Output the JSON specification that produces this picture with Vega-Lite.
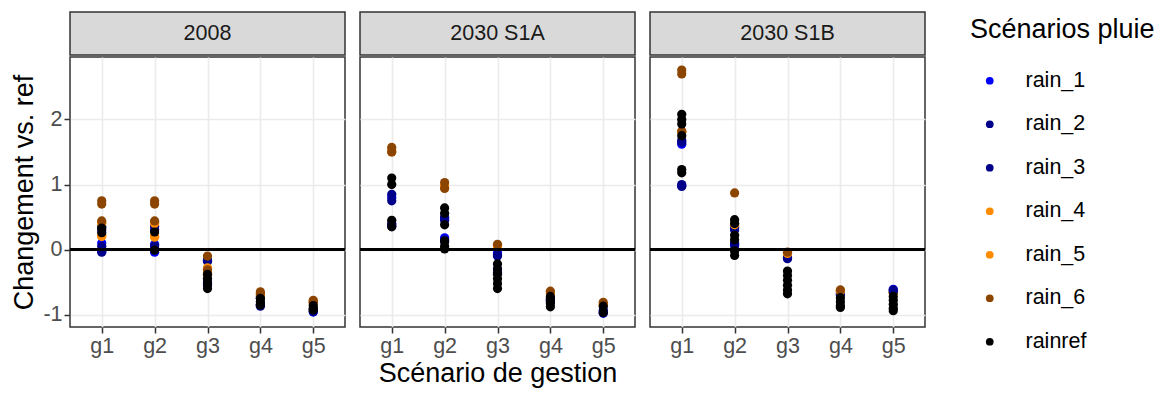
{
  "$schema": "https://vega.github.io/schema/vega-lite/v6.json",
  "padding": {"left": 10, "top": 11, "right": 5, "bottom": 5},
  "config": {
    "font": "Liberation Sans",
    "view": {"stroke": "#333333", "strokeWidth": 1.5},
    "axis": {"labelFontSize": 21.5, "labelColor": "#4D4D4D", "tickColor": "#333333", "tickWidth": 1.5, "tickSize": 6, "domain": false, "gridColor": "#EBEBEB", "titleFontSize": 27, "titleFontWeight": "normal", "titleColor": "#000000", "labelPadding": 2},
    "legend": {"titleFontSize": 27, "titleFontWeight": "normal", "titleColor": "#000000", "titleLimit": 400, "labelFontSize": 21.5, "labelColor": "#000000", "symbolSize": 60, "symbolType": "circle", "rowPadding": 20.5, "labelOffset": 25, "symbolOffset": 9, "offset": 38, "titlePadding": 26, "padding": 5}
  },
  "data": {"values": [
    {"p":"2008","g":"g1","s":"rain_1","v":0.10},{"p":"2008","g":"g1","s":"rain_1","v":-0.03},
    {"p":"2008","g":"g1","s":"rain_2","v":0.35},{"p":"2008","g":"g1","s":"rain_2","v":0.05},
    {"p":"2008","g":"g1","s":"rain_3","v":0.30},{"p":"2008","g":"g1","s":"rain_3","v":-0.04},
    {"p":"2008","g":"g1","s":"rain_4","v":0.42},{"p":"2008","g":"g1","s":"rain_4","v":0.22},
    {"p":"2008","g":"g1","s":"rain_5","v":0.40},{"p":"2008","g":"g1","s":"rain_5","v":0.20},
    {"p":"2008","g":"g1","s":"rain_6","v":0.75},{"p":"2008","g":"g1","s":"rain_6","v":0.70},{"p":"2008","g":"g1","s":"rain_6","v":0.44},
    {"p":"2008","g":"g1","s":"rainref","v":0.33},{"p":"2008","g":"g1","s":"rainref","v":0.26},
    {"p":"2008","g":"g2","s":"rain_1","v":0.08},{"p":"2008","g":"g2","s":"rain_1","v":-0.04},
    {"p":"2008","g":"g2","s":"rain_2","v":0.36},{"p":"2008","g":"g2","s":"rain_2","v":0.06},
    {"p":"2008","g":"g2","s":"rain_3","v":0.31},{"p":"2008","g":"g2","s":"rain_3","v":0.02},
    {"p":"2008","g":"g2","s":"rain_4","v":0.42},{"p":"2008","g":"g2","s":"rain_4","v":0.21},
    {"p":"2008","g":"g2","s":"rain_5","v":0.40},{"p":"2008","g":"g2","s":"rain_5","v":0.19},
    {"p":"2008","g":"g2","s":"rain_6","v":0.75},{"p":"2008","g":"g2","s":"rain_6","v":0.70},{"p":"2008","g":"g2","s":"rain_6","v":0.44},
    {"p":"2008","g":"g2","s":"rainref","v":0.27},{"p":"2008","g":"g2","s":"rainref","v":-0.01},
    {"p":"2008","g":"g3","s":"rain_1","v":-0.17},{"p":"2008","g":"g3","s":"rain_1","v":-0.45},
    {"p":"2008","g":"g3","s":"rain_2","v":-0.18},{"p":"2008","g":"g3","s":"rain_2","v":-0.50},
    {"p":"2008","g":"g3","s":"rain_3","v":-0.16},{"p":"2008","g":"g3","s":"rain_3","v":-0.55},
    {"p":"2008","g":"g3","s":"rain_4","v":-0.30},{"p":"2008","g":"g3","s":"rain_4","v":-0.35},
    {"p":"2008","g":"g3","s":"rain_5","v":-0.28},{"p":"2008","g":"g3","s":"rain_5","v":-0.40},
    {"p":"2008","g":"g3","s":"rain_6","v":-0.10},{"p":"2008","g":"g3","s":"rain_6","v":-0.31},
    {"p":"2008","g":"g3","s":"rainref","v":-0.38},{"p":"2008","g":"g3","s":"rainref","v":-0.45},{"p":"2008","g":"g3","s":"rainref","v":-0.52},{"p":"2008","g":"g3","s":"rainref","v":-0.60},
    {"p":"2008","g":"g4","s":"rain_1","v":-0.85},
    {"p":"2008","g":"g4","s":"rain_2","v":-0.75},{"p":"2008","g":"g4","s":"rain_2","v":-0.87},
    {"p":"2008","g":"g4","s":"rain_3","v":-0.72},{"p":"2008","g":"g4","s":"rain_3","v":-0.84},
    {"p":"2008","g":"g4","s":"rain_4","v":-0.68},
    {"p":"2008","g":"g4","s":"rain_5","v":-0.70},
    {"p":"2008","g":"g4","s":"rain_6","v":-0.65},{"p":"2008","g":"g4","s":"rain_6","v":-0.68},
    {"p":"2008","g":"g4","s":"rainref","v":-0.75},{"p":"2008","g":"g4","s":"rainref","v":-0.80},{"p":"2008","g":"g4","s":"rainref","v":-0.85},
    {"p":"2008","g":"g5","s":"rain_1","v":-0.96},
    {"p":"2008","g":"g5","s":"rain_2","v":-0.92},
    {"p":"2008","g":"g5","s":"rain_3","v":-0.95},
    {"p":"2008","g":"g5","s":"rain_4","v":-0.80},
    {"p":"2008","g":"g5","s":"rain_5","v":-0.82},
    {"p":"2008","g":"g5","s":"rain_6","v":-0.78},{"p":"2008","g":"g5","s":"rain_6","v":-0.81},
    {"p":"2008","g":"g5","s":"rainref","v":-0.86},{"p":"2008","g":"g5","s":"rainref","v":-0.90},{"p":"2008","g":"g5","s":"rainref","v":-0.93},

    {"p":"2030 S1A","g":"g1","s":"rain_1","v":0.80},{"p":"2030 S1A","g":"g1","s":"rain_1","v":0.36},
    {"p":"2030 S1A","g":"g1","s":"rain_2","v":0.85},{"p":"2030 S1A","g":"g1","s":"rain_2","v":0.40},
    {"p":"2030 S1A","g":"g1","s":"rain_3","v":0.75},{"p":"2030 S1A","g":"g1","s":"rain_3","v":0.38},
    {"p":"2030 S1A","g":"g1","s":"rain_4","v":1.50},
    {"p":"2030 S1A","g":"g1","s":"rain_5","v":1.52},
    {"p":"2030 S1A","g":"g1","s":"rain_6","v":1.57},{"p":"2030 S1A","g":"g1","s":"rain_6","v":1.50},
    {"p":"2030 S1A","g":"g1","s":"rainref","v":1.10},{"p":"2030 S1A","g":"g1","s":"rainref","v":1.00},{"p":"2030 S1A","g":"g1","s":"rainref","v":0.45},{"p":"2030 S1A","g":"g1","s":"rainref","v":0.35},
    {"p":"2030 S1A","g":"g2","s":"rain_1","v":0.48},{"p":"2030 S1A","g":"g2","s":"rain_1","v":0.18},
    {"p":"2030 S1A","g":"g2","s":"rain_2","v":0.50},{"p":"2030 S1A","g":"g2","s":"rain_2","v":0.15},
    {"p":"2030 S1A","g":"g2","s":"rain_3","v":0.45},{"p":"2030 S1A","g":"g2","s":"rain_3","v":0.12},
    {"p":"2030 S1A","g":"g2","s":"rain_4","v":0.95},
    {"p":"2030 S1A","g":"g2","s":"rain_5","v":0.98},
    {"p":"2030 S1A","g":"g2","s":"rain_6","v":1.03},{"p":"2030 S1A","g":"g2","s":"rain_6","v":0.94},
    {"p":"2030 S1A","g":"g2","s":"rainref","v":0.64},{"p":"2030 S1A","g":"g2","s":"rainref","v":0.56},{"p":"2030 S1A","g":"g2","s":"rainref","v":0.38},{"p":"2030 S1A","g":"g2","s":"rainref","v":0.13},{"p":"2030 S1A","g":"g2","s":"rainref","v":0.05},{"p":"2030 S1A","g":"g2","s":"rainref","v":0.01},
    {"p":"2030 S1A","g":"g3","s":"rain_1","v":-0.05},{"p":"2030 S1A","g":"g3","s":"rain_1","v":-0.30},
    {"p":"2030 S1A","g":"g3","s":"rain_2","v":-0.08},{"p":"2030 S1A","g":"g3","s":"rain_2","v":-0.35},
    {"p":"2030 S1A","g":"g3","s":"rain_3","v":-0.10},
    {"p":"2030 S1A","g":"g3","s":"rain_4","v":0.05},
    {"p":"2030 S1A","g":"g3","s":"rain_5","v":0.06},
    {"p":"2030 S1A","g":"g3","s":"rain_6","v":0.08},
    {"p":"2030 S1A","g":"g3","s":"rainref","v":-0.22},{"p":"2030 S1A","g":"g3","s":"rainref","v":-0.30},{"p":"2030 S1A","g":"g3","s":"rainref","v":-0.38},{"p":"2030 S1A","g":"g3","s":"rainref","v":-0.45},{"p":"2030 S1A","g":"g3","s":"rainref","v":-0.52},{"p":"2030 S1A","g":"g3","s":"rainref","v":-0.60},
    {"p":"2030 S1A","g":"g4","s":"rain_1","v":-0.78},
    {"p":"2030 S1A","g":"g4","s":"rain_2","v":-0.75},
    {"p":"2030 S1A","g":"g4","s":"rain_3","v":-0.80},
    {"p":"2030 S1A","g":"g4","s":"rain_4","v":-0.66},
    {"p":"2030 S1A","g":"g4","s":"rain_5","v":-0.68},
    {"p":"2030 S1A","g":"g4","s":"rain_6","v":-0.64},
    {"p":"2030 S1A","g":"g4","s":"rainref","v":-0.72},{"p":"2030 S1A","g":"g4","s":"rainref","v":-0.77},{"p":"2030 S1A","g":"g4","s":"rainref","v":-0.83},{"p":"2030 S1A","g":"g4","s":"rainref","v":-0.88},
    {"p":"2030 S1A","g":"g5","s":"rain_1","v":-0.98},
    {"p":"2030 S1A","g":"g5","s":"rain_2","v":-0.93},
    {"p":"2030 S1A","g":"g5","s":"rain_3","v":-0.95},
    {"p":"2030 S1A","g":"g5","s":"rain_4","v":-0.84},
    {"p":"2030 S1A","g":"g5","s":"rain_5","v":-0.85},
    {"p":"2030 S1A","g":"g5","s":"rain_6","v":-0.81},
    {"p":"2030 S1A","g":"g5","s":"rainref","v":-0.87},{"p":"2030 S1A","g":"g5","s":"rainref","v":-0.97},

    {"p":"2030 S1B","g":"g1","s":"rain_1","v":1.62},{"p":"2030 S1B","g":"g1","s":"rain_1","v":0.98},
    {"p":"2030 S1B","g":"g1","s":"rain_2","v":1.68},{"p":"2030 S1B","g":"g1","s":"rain_2","v":1.00},
    {"p":"2030 S1B","g":"g1","s":"rain_3","v":1.65},{"p":"2030 S1B","g":"g1","s":"rain_3","v":0.97},
    {"p":"2030 S1B","g":"g1","s":"rain_4","v":1.80},
    {"p":"2030 S1B","g":"g1","s":"rain_5","v":1.82},
    {"p":"2030 S1B","g":"g1","s":"rain_6","v":2.76},{"p":"2030 S1B","g":"g1","s":"rain_6","v":2.70},{"p":"2030 S1B","g":"g1","s":"rain_6","v":1.82},
    {"p":"2030 S1B","g":"g1","s":"rainref","v":2.08},{"p":"2030 S1B","g":"g1","s":"rainref","v":2.00},{"p":"2030 S1B","g":"g1","s":"rainref","v":1.93},{"p":"2030 S1B","g":"g1","s":"rainref","v":1.75},{"p":"2030 S1B","g":"g1","s":"rainref","v":1.23},{"p":"2030 S1B","g":"g1","s":"rainref","v":1.18},
    {"p":"2030 S1B","g":"g2","s":"rain_1","v":0.33},{"p":"2030 S1B","g":"g2","s":"rain_1","v":0.08},
    {"p":"2030 S1B","g":"g2","s":"rain_2","v":0.35},{"p":"2030 S1B","g":"g2","s":"rain_2","v":0.10},
    {"p":"2030 S1B","g":"g2","s":"rain_3","v":0.30},{"p":"2030 S1B","g":"g2","s":"rain_3","v":0.06},
    {"p":"2030 S1B","g":"g2","s":"rain_4","v":0.40},
    {"p":"2030 S1B","g":"g2","s":"rain_5","v":0.38},
    {"p":"2030 S1B","g":"g2","s":"rain_6","v":0.87},
    {"p":"2030 S1B","g":"g2","s":"rainref","v":0.46},{"p":"2030 S1B","g":"g2","s":"rainref","v":0.40},{"p":"2030 S1B","g":"g2","s":"rainref","v":0.22},{"p":"2030 S1B","g":"g2","s":"rainref","v":0.15},{"p":"2030 S1B","g":"g2","s":"rainref","v":-0.02},{"p":"2030 S1B","g":"g2","s":"rainref","v":-0.09},
    {"p":"2030 S1B","g":"g3","s":"rain_1","v":-0.13},
    {"p":"2030 S1B","g":"g3","s":"rain_2","v":-0.12},
    {"p":"2030 S1B","g":"g3","s":"rain_3","v":-0.14},
    {"p":"2030 S1B","g":"g3","s":"rain_4","v":-0.05},
    {"p":"2030 S1B","g":"g3","s":"rain_5","v":-0.06},
    {"p":"2030 S1B","g":"g3","s":"rain_6","v":-0.04},
    {"p":"2030 S1B","g":"g3","s":"rainref","v":-0.33},{"p":"2030 S1B","g":"g3","s":"rainref","v":-0.40},{"p":"2030 S1B","g":"g3","s":"rainref","v":-0.47},{"p":"2030 S1B","g":"g3","s":"rainref","v":-0.55},{"p":"2030 S1B","g":"g3","s":"rainref","v":-0.62},{"p":"2030 S1B","g":"g3","s":"rainref","v":-0.68},
    {"p":"2030 S1B","g":"g4","s":"rain_1","v":-0.66},
    {"p":"2030 S1B","g":"g4","s":"rain_2","v":-0.68},
    {"p":"2030 S1B","g":"g4","s":"rain_3","v":-0.70},
    {"p":"2030 S1B","g":"g4","s":"rain_4","v":-0.63},
    {"p":"2030 S1B","g":"g4","s":"rain_5","v":-0.64},
    {"p":"2030 S1B","g":"g4","s":"rain_6","v":-0.62},
    {"p":"2030 S1B","g":"g4","s":"rainref","v":-0.74},{"p":"2030 S1B","g":"g4","s":"rainref","v":-0.80},{"p":"2030 S1B","g":"g4","s":"rainref","v":-0.86},{"p":"2030 S1B","g":"g4","s":"rainref","v":-0.89},
    {"p":"2030 S1B","g":"g5","s":"rain_4","v":-0.66},
    {"p":"2030 S1B","g":"g5","s":"rain_5","v":-0.67},
    {"p":"2030 S1B","g":"g5","s":"rain_6","v":-0.66},
    {"p":"2030 S1B","g":"g5","s":"rain_1","v":-0.61},
    {"p":"2030 S1B","g":"g5","s":"rain_2","v":-0.62},
    {"p":"2030 S1B","g":"g5","s":"rain_3","v":-0.64},
    {"p":"2030 S1B","g":"g5","s":"rainref","v":-0.72},{"p":"2030 S1B","g":"g5","s":"rainref","v":-0.78},{"p":"2030 S1B","g":"g5","s":"rainref","v":-0.84},{"p":"2030 S1B","g":"g5","s":"rainref","v":-0.90},{"p":"2030 S1B","g":"g5","s":"rainref","v":-0.94}
  ]},
  "spacing": 11,
  "hconcat": [
    {
      "spacing": 0,
      "vconcat": [
        {"width": 275, "height": 43, "data": {"values": [{"p": "2008"}]}, "view": {"fill": "#D9D9D9", "stroke": "#333333", "strokeWidth": 1.5},
         "mark": {"type": "text", "fontSize": 21.5, "color": "#1A1A1A"}, "encoding": {"text": {"field": "p"}}},
        {"width": 275, "height": 270, "transform": [{"filter": "datum.p === '2008'"}],
         "layer": [
           {"mark": {"type": "circle", "size": 85, "opacity": 1},
            "encoding": {
              "x": {"field": "g", "type": "nominal", "scale": {"type": "point", "padding": 0.6}, "axis": {"title": null, "labelAngle": 0, "grid": true, "gridWidth": 1.6}},
              "y": {"field": "v", "type": "quantitative", "scale": {"domain": [-1.19, 2.96], "nice": false, "zero": false},
                    "axis": {"title": "Changement vs. ref", "titlePadding": 4, "values": [-1, -0.5, 0, 0.5, 1, 1.5, 2, 2.5], "labelExpr": "datum.value % 1 === 0 ? '' + datum.value : ''",
                             "tickOpacity": {"condition": {"test": "datum.value % 1 !== 0", "value": 0}, "value": 1},
                             "gridWidth": {"condition": {"test": "datum.value % 1 !== 0", "value": 0.8}, "value": 1.6}}},
              "color": {"field": "s", "type": "nominal", "title": "Scénarios pluie",
                        "scale": {"domain": ["rain_1", "rain_2", "rain_3", "rain_4", "rain_5", "rain_6", "rainref"], "range": ["#0000FF", "#00008B", "#00008B", "#FF8C00", "#FF8C00", "#8B4500", "#000000"]}}
            }},
           {"mark": {"type": "rule", "color": "#000000", "strokeWidth": 1.6}, "encoding": {"y": {"datum": 0}}}
         ]}
      ]
    },
    {
      "spacing": 0,
      "vconcat": [
        {"width": 275, "height": 43, "data": {"values": [{"p": "2030 S1A"}]}, "view": {"fill": "#D9D9D9", "stroke": "#333333", "strokeWidth": 1.5},
         "mark": {"type": "text", "fontSize": 21.5, "color": "#1A1A1A"}, "encoding": {"text": {"field": "p"}}},
        {"width": 275, "height": 270, "transform": [{"filter": "datum.p === '2030 S1A'"}],
         "layer": [
           {"mark": {"type": "circle", "size": 85, "opacity": 1},
            "encoding": {
              "x": {"field": "g", "type": "nominal", "scale": {"type": "point", "padding": 0.6}, "axis": {"title": "Scénario de gestion", "titlePadding": 4, "labelAngle": 0, "grid": true, "gridWidth": 1.6}},
              "y": {"field": "v", "type": "quantitative", "scale": {"domain": [-1.19, 2.96], "nice": false, "zero": false},
                    "axis": {"title": null, "labels": false, "ticks": false, "values": [-1, -0.5, 0, 0.5, 1, 1.5, 2, 2.5],
                             "gridWidth": {"condition": {"test": "datum.value % 1 !== 0", "value": 0.8}, "value": 1.6}}},
              "color": {"field": "s", "type": "nominal", "title": "Scénarios pluie",
                        "scale": {"domain": ["rain_1", "rain_2", "rain_3", "rain_4", "rain_5", "rain_6", "rainref"], "range": ["#0000FF", "#00008B", "#00008B", "#FF8C00", "#FF8C00", "#8B4500", "#000000"]}}
            }},
           {"mark": {"type": "rule", "color": "#000000", "strokeWidth": 1.6}, "encoding": {"y": {"datum": 0}}}
         ]}
      ]
    },
    {
      "spacing": 0,
      "vconcat": [
        {"width": 275, "height": 43, "data": {"values": [{"p": "2030 S1B"}]}, "view": {"fill": "#D9D9D9", "stroke": "#333333", "strokeWidth": 1.5},
         "mark": {"type": "text", "fontSize": 21.5, "color": "#1A1A1A"}, "encoding": {"text": {"field": "p"}}},
        {"width": 275, "height": 270, "transform": [{"filter": "datum.p === '2030 S1B'"}],
         "layer": [
           {"mark": {"type": "circle", "size": 85, "opacity": 1},
            "encoding": {
              "x": {"field": "g", "type": "nominal", "scale": {"type": "point", "padding": 0.6}, "axis": {"title": null, "labelAngle": 0, "grid": true, "gridWidth": 1.6}},
              "y": {"field": "v", "type": "quantitative", "scale": {"domain": [-1.19, 2.96], "nice": false, "zero": false},
                    "axis": {"title": null, "labels": false, "ticks": false, "values": [-1, -0.5, 0, 0.5, 1, 1.5, 2, 2.5],
                             "gridWidth": {"condition": {"test": "datum.value % 1 !== 0", "value": 0.8}, "value": 1.6}}},
              "color": {"field": "s", "type": "nominal", "title": "Scénarios pluie",
                        "scale": {"domain": ["rain_1", "rain_2", "rain_3", "rain_4", "rain_5", "rain_6", "rainref"], "range": ["#0000FF", "#00008B", "#00008B", "#FF8C00", "#FF8C00", "#8B4500", "#000000"]}}
            }},
           {"mark": {"type": "rule", "color": "#000000", "strokeWidth": 1.6}, "encoding": {"y": {"datum": 0}}}
         ]}
      ]
    }
  ]
}
